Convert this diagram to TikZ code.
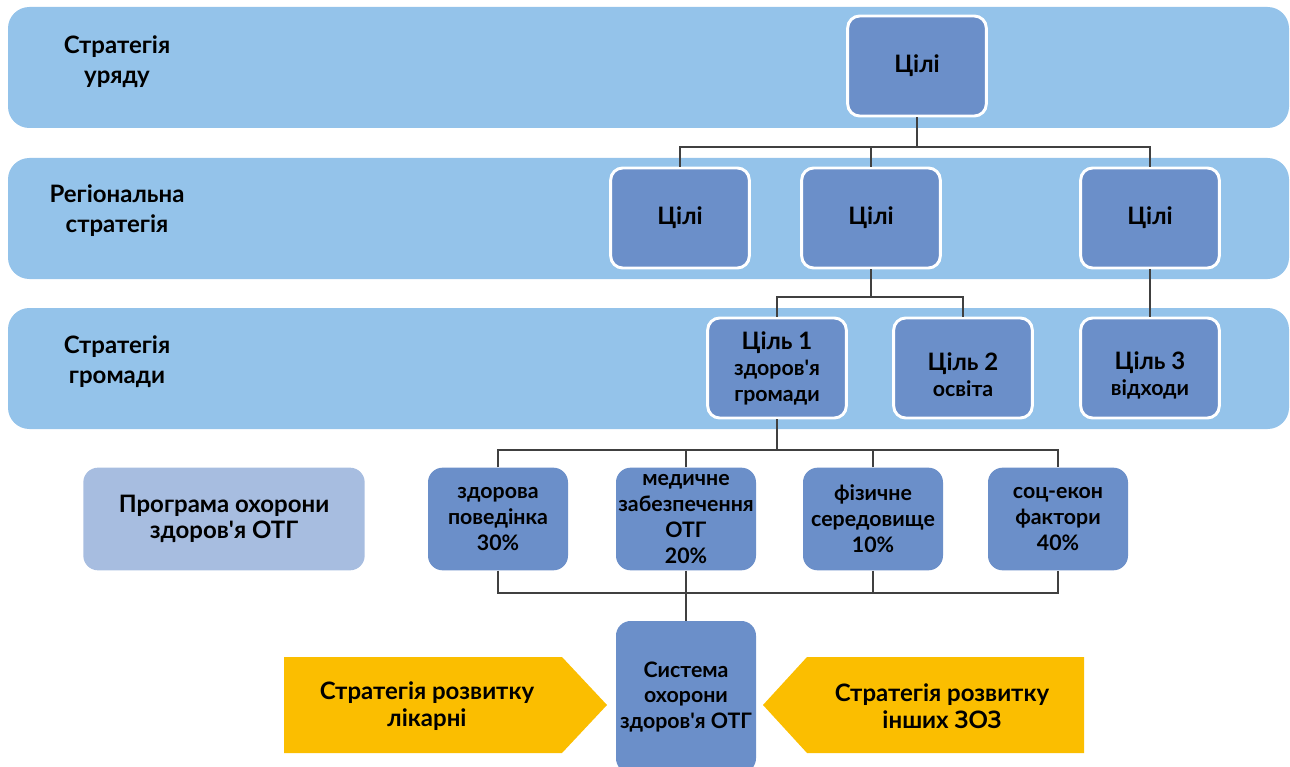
\documentclass[tikz,border=0pt]{standalone}
\usepackage{fontspec}
\setmainfont{Lato}
\usetikzlibrary{positioning, calc}
\definecolor{bandblue}{HTML}{94C3EA}
\definecolor{boxblue}{HTML}{6B8FC9}
\definecolor{progblue}{HTML}{A7BDE0}
\definecolor{arrowgold}{HTML}{FBBE00}
\definecolor{linegray}{HTML}{404040}
\newcommand{\goalbig}{\fontsize{18}{19.5}\selectfont}

\begin{document}
\begin{tikzpicture}[
    x=0.75pt, y=-0.75pt,
    every node/.style={font=\bfseries},
    band/.style={fill=bandblue, rounded corners=16pt},
    goal/.style={draw=white, line width=2.2pt, fill=boxblue, rounded corners=9pt, minimum width=104pt, minimum height=75pt, inner sep=1pt, align=center, font=\bfseries\fontsize{16}{19.5}\selectfont},
    factor/.style={fill=boxblue, rounded corners=11pt, minimum width=105pt, minimum height=77pt, inner sep=0.5pt, align=center, font=\bfseries\fontsize{16}{19.5}\selectfont},
    prog/.style={fill=progblue, rounded corners=11pt, minimum width=211pt, minimum height=77pt, align=center, font=\bfseries\fontsize{18}{20}\selectfont},
    level/.style={align=center, font=\bfseries\fontsize{18}{22.5}\selectfont},
    push/.style={fill=arrowgold},
    pushtext/.style={align=center, font=\bfseries\fontsize{18}{20}\selectfont},
    conn/.style={draw=linegray, line width=0.9pt}
]
    \useasboundingbox (0,0) rectangle (1290,767);
    \clip (0,0) rectangle (1290,767);

    \fill[band] (8,7) rectangle (1289,128);
    \fill[band] (8,158) rectangle (1289,279);
    \fill[band] (8,308) rectangle (1289,429);

    \node[level] (lgov) at (117,62) {Стратегія\\уряду};
    \node[level] (lreg) at (117,211) {Регіональна\\стратегія};
    \node[level] (lcom) at (117,362) {Стратегія\\громади};

    \node[goal, font=\bfseries\goalbig] (g0) at (917,66) {Цілі};
    \node[goal, font=\bfseries\goalbig] (r1) at (680,218) {Цілі};
    \node[goal, font=\bfseries\goalbig] (r2) at (871,218) {Цілі};
    \node[goal, font=\bfseries\goalbig] (r3) at (1150,218) {Цілі};

    \node[goal] (c1) at (777,368) {\goalbig Ціль 1\\здоров\textquotesingle я\\громади};
    \node[goal] (c2) at (963,368) {\rule{0pt}{24pt}\goalbig Ціль 2\\освіта};
    \node[goal] (c3) at (1150,368) {\rule{0pt}{24pt}\goalbig Ціль 3\\відходи};

    \node[prog] (prog) at (224,519) {Програма охорони\\здоров\textquotesingle я ОТГ};
    \node[factor] (f1) at (498,519) {здорова\\поведінка\\30\%};
    \node[factor] (f2) at (686,519) {медичне\\забезпечення\\ОТГ\\20\%};
    \node[factor] (f3) at (873,519) {фізичне\\середовище\\10\%};
    \node[factor] (f4) at (1058,519) {соц-екон\\фактори\\40\%};

    \node[factor, minimum height=114pt, font=\bfseries\fontsize{16}{19}\selectfont] (sys) at (686,697) {Система\\охорони\\здоров\textquotesingle я ОТГ};

    \fill[push] (284,657) -- (562,657) -- (607,705) -- (562,753) -- (284,753) -- cycle;
    \fill[push] (1084,657) -- (807,657) -- (763,705) -- (807,753) -- (1084,753) -- cycle;
    \node[pushtext] (hosp) at (427,706) {Стратегія розвитку\\лікарні};
    \node[pushtext] (other) at (942,706) {Стратегія розвитку\\інших ЗОЗ};

    \coordinate (bus1) at (917,147);
    \coordinate (bus2) at (871,297);
    \coordinate (bus3) at (777,450);
    \coordinate (bus4) at (686,593);

    \draw[conn] (g0.south) -- (g0.south |- bus1);
    \draw[conn] (r1.north) -- (r1.north |- bus1) -- (r3.north |- bus1) -- (r3.north);
    \draw[conn] (r2.north) -- (r2.north |- bus1);

    \draw[conn] (r2.south) -- (r2.south |- bus2);
    \draw[conn] (c1.north) -- (c1.north |- bus2) -- (c2.north |- bus2) -- (c2.north);
    \draw[conn] (r3.south) -- (c3.north);

    \draw[conn] (c1.south) -- (c1.south |- bus3);
    \draw[conn] (f1.north) -- (f1.north |- bus3) -- (f4.north |- bus3) -- (f4.north);
    \draw[conn] (f2.north) -- (f2.north |- bus3);
    \draw[conn] (f3.north) -- (f3.north |- bus3);

    \draw[conn] (f1.south) -- (f1.south |- bus4) -- (f4.south |- bus4) -- (f4.south);
    \draw[conn] (f2.south) -- (sys.north);
    \draw[conn] (f3.south) -- (f3.south |- bus4);
\end{tikzpicture}
\end{document}
